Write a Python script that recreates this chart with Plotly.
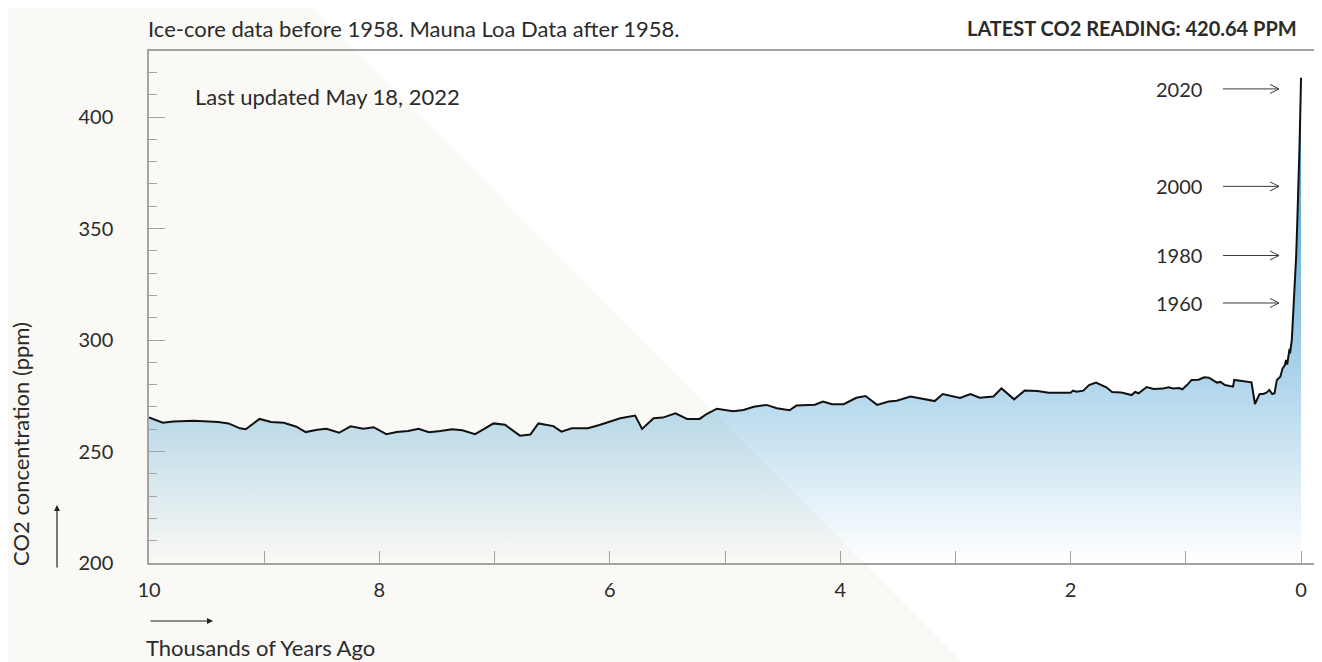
import plotly.graph_objects as go

# ---------------- data ----------------
years_ago_k = [10.0, 9.88, 9.79, 9.61, 9.40, 9.31, 9.21, 9.16, 9.04, 8.94, 8.83, 8.72, 8.64, 8.54,
               8.46, 8.35, 8.25, 8.14, 8.05, 7.94, 7.85, 7.75, 7.66, 7.57, 7.47, 7.37, 7.28, 7.17,
               7.09, 7.01, 6.91, 6.78, 6.69, 6.62, 6.49, 6.42, 6.33, 6.19, 6.09, 5.91, 5.78, 5.72,
               5.62, 5.54, 5.43, 5.33, 5.22, 5.16, 5.07, 4.93, 4.84, 4.75, 4.64, 4.55, 4.44, 4.38,
               4.22, 4.15, 4.07, 3.97, 3.86, 3.78, 3.68, 3.58, 3.51, 3.39, 3.18, 3.11, 2.96, 2.87,
               2.79, 2.67, 2.60, 2.49, 2.40, 2.29, 2.19, 2.00, 1.98, 1.95, 1.89, 1.84, 1.78, 1.73,
               1.69, 1.64, 1.56, 1.47, 1.44, 1.41, 1.34, 1.28, 1.20, 1.15, 1.11, 1.06, 1.03, 0.99,
               0.95, 0.89, 0.84, 0.80, 0.73, 0.70, 0.66, 0.59, 0.58, 0.43, 0.40, 0.36, 0.33, 0.30,
               0.275, 0.25, 0.23, 0.21, 0.18, 0.16, 0.14, 0.13, 0.12, 0.10, 0.095, 0.08, 0.07,
               0.064, 0.062, 0.052, 0.042, 0.032, 0.022, 0.012, 0.002, 0.0]
co2_ppm = [265.3, 262.9, 263.5, 263.8, 263.2, 262.6, 260.4, 260.0, 264.6, 263.2, 262.9, 261.1, 258.7, 259.8,
           260.2, 258.4, 261.3, 260.2, 260.9, 257.8, 258.7, 259.2, 260.2, 258.6, 259.2, 260.0, 259.5, 257.8,
           260.1, 262.6, 262.0, 257.1, 257.6, 262.6, 261.4, 258.9, 260.4, 260.4, 261.9, 264.9, 266.1, 260.1,
           264.9, 265.2, 267.1, 264.6, 264.6, 266.8, 269.2, 268.0, 268.6, 270.1, 270.9, 269.4, 268.5, 270.6,
           271.0, 272.4, 271.2, 271.2, 274.1, 274.9, 270.9, 272.4, 272.8, 274.6, 272.6, 275.8, 274.0, 275.8,
           274.1, 274.7, 278.3, 273.4, 277.3, 277.1, 276.4, 276.4, 277.3, 276.8, 277.3, 279.8, 280.9, 279.7,
           278.8, 276.7, 276.5, 275.3, 276.7, 276.1, 278.9, 278.0, 278.2, 278.8, 278.3, 278.5, 277.9, 279.8,
           282.1, 282.2, 283.3, 283.1, 280.9, 281.2, 279.8, 279.1, 282.1, 281.0, 271.3, 275.8, 275.8, 276.4,
           277.6, 275.8, 276.1, 282.1, 283.5, 287.3, 288.8, 291.0, 289.0, 296.0, 294.0, 300.0, 310.0,
           315.0, 316.6, 325.5, 337.9, 353.8, 368.9, 389.0, 412.6, 417.6]

x_tick_vals = [10, 8, 6, 4, 2, 0]
x_tick_text = ["10", "8", "6", "4", "2", "0"]
y_tick_vals = [200, 250, 300, 350, 400]
y_tick_text = ["200", "250", "300", "350", "400"]

marker_years = ["2020", "2000", "1980", "1960"]
marker_values = [412.6, 368.9, 337.9, 316.6]

subtitle = "Ice-core data before 1958. Mauna Loa Data after 1958."
latest = "LATEST CO2 READING: 420.64 PPM"
updated = "Last updated May 18, 2022"
x_title = "Thousands of Years Ago"
y_title = "CO2 concentration (ppm)"

# ---------------- layout geometry ----------------
# the page has an 8px body margin, so the figure starts at (8, 8) in the window
OFF = 8
VW, VH = 1322, 662
W, H = VW - OFF, VH - OFF
ML, MR, MT, MB = 149 - OFF, 0, 51 - OFF, 99
PW, PH = W - ML - MR, H - MT - MB


def px(xp):
    """window x pixel -> paper x"""
    return (xp - OFF - ML) / PW


def py(yp):
    """window y pixel -> paper y"""
    return (OFF + H - MB - yp) / PH


FONT = "Lato, 'Source Sans Pro', sans-serif"
TXT = "#2b2b2b"
AXC = "#a3a3a3"

fig = go.Figure()

fig.add_trace(go.Scatter(
    x=years_ago_k, y=co2_ppm, mode="lines",
    line=dict(color="#111111", width=2),
    fill="tozeroy",
    fillgradient=dict(type="vertical",
                      colorscale=[[0, "rgba(40,142,202,0)"], [1, "rgba(40,142,202,1)"]],
                      start=200, stop=420),
    hoverinfo="skip", showlegend=False,
))

shapes = [
    dict(type="path", xref="paper", yref="paper", layer="below",
         path=f"M {px(-5)},{py(-5)} L {px(300)},{py(-5)} L {px(300+VH+5)},{py(VH+5)} L {px(-5)},{py(VH+5)} Z",
         fillcolor="#faf9f5", line=dict(width=0)),
]
for v in marker_values:
    shapes.append(dict(type="path", xref="x", yref="y", xsizemode="pixel", ysizemode="pixel",
                       xanchor=0, yanchor=v,
                       path="M -78,0 L -22,0 M -31,4.5 L -22,0 L -31,-4.5",
                       line=dict(color="#3a3a3a", width=1)))

annotations = [
    dict(text=subtitle, xref="paper", yref="paper", x=px(146), y=py(28), xanchor="left",
         yanchor="middle", showarrow=False, font=dict(size=22, color=TXT, family=FONT)),
    dict(text=f"<b>{latest}</b>", xref="paper", yref="paper", x=px(1299), y=py(28), xanchor="right",
         yanchor="middle", showarrow=False, font=dict(size=20, color=TXT, family=FONT)),
    dict(text=updated, xref="paper", yref="paper", x=px(193), y=py(96), xanchor="left",
         yanchor="middle", showarrow=False, font=dict(size=22, color=TXT, family=FONT)),
    dict(text=x_title, xref="paper", yref="paper", x=px(144), y=py(647), xanchor="left",
         yanchor="middle", showarrow=False, font=dict(size=22, color=TXT, family=FONT)),
    dict(text=y_title, xref="paper", yref="paper", x=px(20), y=py(444), xanchor="center",
         yanchor="middle", textangle=-90, showarrow=False, font=dict(size=22, color=TXT, family=FONT)),
    # axis direction arrows
    dict(text="", xref="paper", yref="paper", x=px(213), y=py(621), ax=-64, ay=0,
         showarrow=True, arrowhead=2, arrowsize=1, arrowwidth=1.2, arrowcolor="#222"),
    dict(text="", xref="paper", yref="paper", x=px(57), y=py(505), ax=0, ay=64,
         showarrow=True, arrowhead=2, arrowsize=1, arrowwidth=1.2, arrowcolor="#222"),
]
for yr, v in zip(marker_years, marker_values):
    annotations.append(dict(text=yr, xref="x", yref="y", x=0, y=v, xshift=-97, xanchor="right",
                            yanchor="middle", showarrow=False,
                            font=dict(size=20, color=TXT, family=FONT)))

fig.update_layout(
    width=W, height=H,
    margin=dict(l=ML, r=MR, t=MT, b=MB, pad=0),
    paper_bgcolor="white", plot_bgcolor="rgba(0,0,0,0)",
    font=dict(family=FONT, color=TXT, size=20),
    shapes=shapes, annotations=annotations,
    xaxis=dict(range=[10, -0.182], tickvals=x_tick_vals, ticktext=x_tick_text,
               ticks="inside", ticklen=12, tickwidth=1.2, tickcolor=AXC,
               minor=dict(dtick=1, tick0=0, ticks="inside", ticklen=12, tickwidth=1.2, tickcolor=AXC),
               showline=True, linecolor=AXC, linewidth=1.5, mirror=True,
               showgrid=False, zeroline=False, ticklabelstandoff=8,
               tickfont=dict(size=20, color=TXT, family=FONT)),
    yaxis=dict(range=[200, 429.6], tickvals=y_tick_vals, ticktext=y_tick_text,
               ticks="inside", ticklen=16, tickwidth=1.2, tickcolor=AXC,
               minor=dict(dtick=10, tick0=200, ticks="inside", ticklen=8, tickwidth=1.2, tickcolor=AXC),
               showline=True, linecolor=AXC, linewidth=1.5,
               showgrid=False, zeroline=False, ticklabelstandoff=30,
               tickfont=dict(size=20, color=TXT, family=FONT)),
)

fig.write_html("out.html")
